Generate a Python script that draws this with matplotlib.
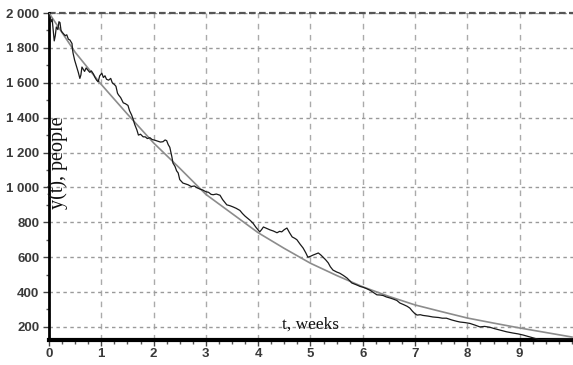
import matplotlib.pyplot as plt
from matplotlib.ticker import MultipleLocator

# Smooth model curve
model_t = [0, 0.5, 1, 1.5, 2, 2.5, 3, 3.5, 4, 4.5, 5, 5.5, 6, 6.5, 7, 7.5, 8, 8.5, 9, 9.5, 10]
model_v = [2000, 1775, 1590, 1420, 1255, 1110, 960, 850, 740, 650, 565, 495, 430, 375, 326,
           288, 251, 222, 194, 168, 142]

obs_t = [0.00, 0.02, 0.04, 0.06, 0.08, 0.10, 0.12, 0.14, 0.17, 0.19, 0.21, 0.23, 0.25, 0.28,
         0.31, 0.34, 0.37, 0.40, 0.44, 0.45, 0.46, 0.49, 0.51, 0.53, 0.56, 0.59, 0.61, 0.63,
         0.65, 0.68, 0.71, 0.75, 0.78, 0.81, 0.85, 0.88, 0.91, 0.94, 0.97, 1.01, 1.04, 1.07,
         1.10, 1.14, 1.18, 1.21, 1.25, 1.28, 1.31, 1.33, 1.37, 1.42, 1.46, 1.51, 1.54, 1.58,
         1.61, 1.64, 1.68, 1.71, 1.75, 1.80, 1.84, 1.88, 1.93, 1.97, 2.03, 2.08, 2.13, 2.18,
         2.22, 2.25, 2.28, 2.31, 2.35, 2.37, 2.41, 2.44, 2.47, 2.50, 2.53, 2.56, 2.61, 2.66,
         2.72, 2.78, 2.83, 2.89, 2.94, 3.00, 3.05, 3.10, 3.14, 3.20, 3.27, 3.32, 3.36, 3.40,
         3.46, 3.52, 3.58, 3.65, 3.70, 3.75, 3.79, 3.85, 3.90, 3.96, 4.03, 4.07, 4.10, 4.16,
         4.23, 4.29, 4.36, 4.41, 4.45, 4.50, 4.55, 4.60, 4.65, 4.70, 4.74, 4.80, 4.86, 4.91,
         4.95, 5.00, 5.05, 5.10, 5.15, 5.20, 5.24, 5.29, 5.34, 5.38, 5.43, 5.50, 5.56, 5.63,
         5.70, 5.75, 5.79, 5.85, 5.89, 5.95, 6.00, 6.07, 6.14, 6.20, 6.27, 6.33, 6.39, 6.45,
         6.52, 6.58, 6.65, 6.71, 6.78, 6.85, 6.90, 6.95, 7.00, 7.04, 7.10, 7.15, 7.25, 7.34,
         7.45, 7.52, 7.60, 7.70, 7.80, 7.86, 7.95, 8.05, 8.15, 8.24, 8.33, 8.43, 8.52, 8.62,
         8.75, 8.87, 8.97, 9.06, 9.13, 9.20, 9.30, 9.39, 9.50, 9.65, 9.80, 10.00]
obs_v = [1990, 1975, 1950, 1965, 1900, 1840, 1870, 1920, 1905, 1950, 1945, 1900, 1890, 1880,
         1870, 1875, 1850, 1845, 1825, 1790, 1770, 1730, 1710, 1690, 1660, 1625, 1645, 1690,
         1680, 1665, 1685, 1670, 1660, 1668, 1650, 1630, 1615, 1605, 1640, 1655, 1630, 1640,
         1620, 1615, 1625, 1600, 1590, 1580, 1540, 1530, 1515, 1485, 1480, 1470, 1440, 1415,
         1390, 1360, 1330, 1300, 1305, 1290, 1290, 1280, 1285, 1275, 1270, 1265, 1260, 1262,
         1272, 1268, 1245, 1230, 1175, 1140, 1120, 1095, 1083, 1045, 1035, 1025, 1020, 1015,
         1005, 1008, 998, 990, 985, 975, 972, 960, 958, 962, 955, 930, 915, 900,
         895, 888, 880, 868, 850, 835, 825, 810, 795, 770, 745, 760, 773, 765,
         756, 750, 740, 748, 745, 758, 767, 740, 716, 708, 700, 675, 652, 625,
         600, 605, 612, 618, 624, 612, 600, 585, 567, 545, 526, 515, 508, 495,
         480, 465, 452, 445, 440, 432, 428, 420, 410, 398, 384, 383, 380, 372,
         366, 360, 352, 337, 328, 318, 308, 290, 275, 268, 270, 266, 262, 257,
         254, 250, 250, 240, 232, 228, 225, 220, 210, 200, 203, 198, 190, 182,
         172, 165, 160, 154, 148, 142, 133, 126, 128, 130, 131, 133]

y_ticks = [200, 400, 600, 800, 1000, 1200, 1400, 1600, 1800, 2000]
y_labels = ['200', '400', '600', '800', '1 000', '1 200', '1 400', '1 600', '1 800', '2 000']
x_ticks = list(range(10))

fig = plt.figure(figsize=(5.73, 3.65), dpi=100)
ax = fig.add_axes([49 / 573, 25 / 365, 524 / 573, 327 / 365])

ax.plot(model_t, model_v, color='#8c8c8c', lw=1.2, zorder=3)
ax.plot(obs_t, obs_v, color='#1a1a1a', lw=0.9, zorder=4)

ax.set_xlim(0, 10.02)
ax.set_ylim(125, 2000)

tick_font = dict(family=['Liberation Sans Narrow', 'Liberation Sans', 'DejaVu Sans'],
                 size=9.5, weight='bold', color='#3a3a3a')
ax.set_xticks(x_ticks)
ax.set_xticklabels([str(t) for t in x_ticks], **tick_font)
ax.set_yticks(y_ticks)
ax.set_yticklabels(y_labels, **tick_font)
ax.xaxis.set_minor_locator(MultipleLocator(0.25))
ax.yaxis.set_minor_locator(MultipleLocator(100))
ax.tick_params(axis='x', which='major', length=4, width=1, pad=2, color='#444')
ax.tick_params(axis='x', which='minor', length=3, width=1, color='#555')
ax.tick_params(axis='y', which='major', length=4, width=1, pad=3, color='#444')
ax.tick_params(axis='y', which='minor', length=2, width=1, color='#555')

# grid
ax.grid(axis='y', which='major', color='#9a9a9a', ls=(0, (2.5, 2.5)), lw=1)
ax.grid(axis='x', which='major', color='#aaaaaa', ls=(0, (4, 4)), lw=1)
ax.axhline(2000, color='#555555', ls=(0, (3, 1.5)), lw=1.6, clip_on=False, zorder=2)

ax.spines['top'].set_visible(False)
ax.spines['right'].set_visible(False)
ax.spines['left'].set_linewidth(2)
ax.spines['bottom'].set_linewidth(3)

ax.text(0.17, 1140, 'y(t), people', rotation=90, ha='center', va='center',
        family=['Liberation Serif', 'DejaVu Serif'], size=14.5, color='#111')
ax.text(5.0, 212, 't, weeks', ha='center', va='center',
        family=['Liberation Serif', 'DejaVu Serif'], size=12.5, color='#111')

plt.savefig('out.png', dpi=100)
